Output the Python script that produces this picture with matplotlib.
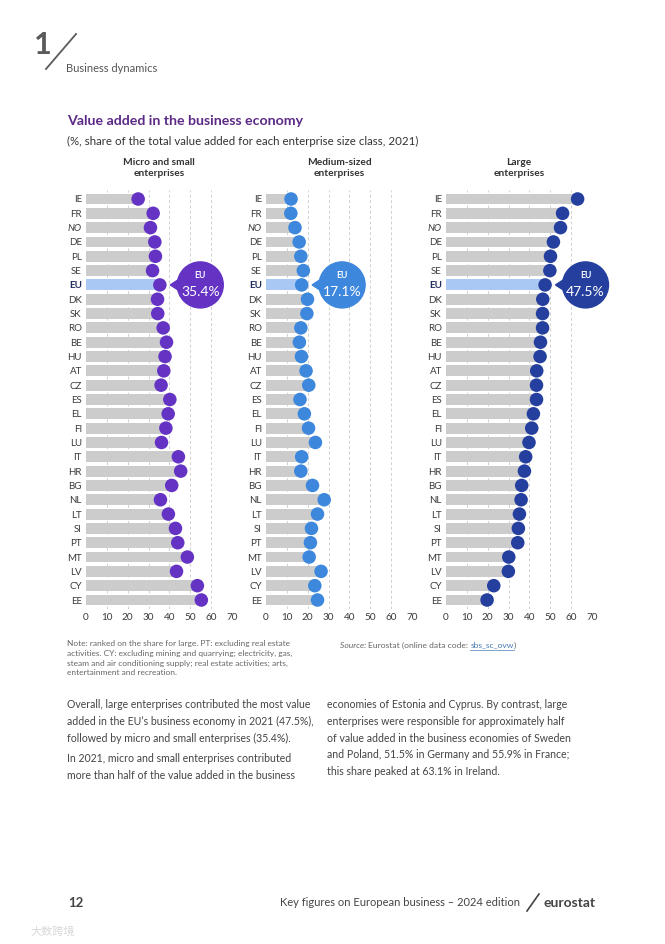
import numpy as np
import matplotlib.pyplot as plt
from matplotlib.patches import Ellipse, Polygon
from matplotlib.lines import Line2D

# ── data ──────────────────────────────────────────────────────────────
COUNTRIES = ["IE", "FR", "NO", "DE", "PL", "SE", "EU", "DK", "SK", "RO",
             "BE", "HU", "AT", "CZ", "ES", "EL", "FI", "LU", "IT", "HR",
             "BG", "NL", "LT", "SI", "PT", "MT", "LV", "CY", "EE"]

MICRO = [25.0, 32.2, 30.9, 33.0, 33.3, 31.9, 35.4, 34.3, 34.4, 37.0,
         38.6, 37.9, 37.3, 36.0, 40.2, 39.4, 38.3, 36.2, 44.3, 45.4,
         41.1, 35.7, 39.5, 42.9, 44.0, 48.6, 43.4, 53.4, 55.3]
MEDIUM = [12.0, 11.9, 13.9, 15.9, 16.7, 17.9, 17.1, 19.9, 19.6, 16.7,
          16.0, 17.0, 19.2, 20.5, 16.3, 18.4, 20.4, 23.7, 17.1, 16.7,
          22.3, 27.9, 24.7, 21.8, 21.3, 20.7, 26.4, 23.4, 24.7]
LARGE = [63.1, 55.9, 54.9, 51.5, 50.1, 49.8, 47.5, 46.4, 46.3, 46.3,
         45.3, 45.1, 43.5, 43.4, 43.4, 41.9, 41.1, 39.8, 38.2, 37.6,
         36.3, 36.0, 35.2, 34.7, 34.4, 30.1, 29.9, 22.9, 19.7]

PANEL_TITLES = ["Micro and small\nenterprises", "Medium-sized\nenterprises", "Large\nenterprises"]
PANEL_COLORS = ["#6433c4", "#3d87dc", "#243f9e"]
XTICKS = [0, 10, 20, 30, 40, 50, 60, 70]

W, H = 665, 944
BODY = ["Lato", "DejaVu Sans"]
plt.rcParams["font.family"] = BODY

fig = plt.figure(figsize=(W / 100, H / 100), dpi=100, facecolor="white")


def fx(px):
    return px / W


def fy(py):
    return 1 - py / H


# ── page header ───────────────────────────────────────────────────────
fig.text(fx(34), fy(45), "1", fontsize=22, fontweight="bold", color="#5a5a5a", va="center")
fig.add_artist(Line2D([fx(46), fx(76)], [fy(69), fy(34)], color="#5a5a5a", lw=1.3))
fig.text(fx(66), fy(68), "Business dynamics", fontsize=8, color="#555555", va="center")

fig.text(fx(67), fy(121), "Value added in the business economy", fontsize=10.2,
         fontweight="bold", color="#5c2a86", va="center")
fig.text(fx(67), fy(141), "(%, share of the total value added for each enterprise size class, 2021)",
         fontsize=8.3, color="#333333", va="center")

# ── panels ────────────────────────────────────────────────────────────
lefts = [86, 266, 446]
ax_w = 146
top_px, bot_px = 190.4, 608.6
n = len(COUNTRIES)
eu_idx = COUNTRIES.index("EU")
y = np.arange(n)

for left, values, color, title in zip(lefts, [MICRO, MEDIUM, LARGE], PANEL_COLORS, PANEL_TITLES):
    ax = fig.add_axes([fx(left), fy(bot_px), ax_w / W, (bot_px - top_px) / H])
    ax.set_xlim(0, 70)
    ax.set_ylim(n - 0.4, -0.6)
    for xv in XTICKS[1:]:
        ax.axvline(xv, color="#d0d0d0", lw=0.7, ls=(0, (3, 2.5)), zorder=0)
    bar_cols = ["#a9c9f4" if c == "EU" else "#cccccc" for c in COUNTRIES]
    ax.barh(y, values, height=0.76, color=bar_cols, zorder=1)
    ax.scatter(values, y, s=95, color=color, zorder=3, edgecolors="none")

    ax.set_yticks(y)
    ax.set_yticklabels(COUNTRIES, fontsize=7, color="#3a3a3a")
    for lab, c in zip(ax.get_yticklabels(), COUNTRIES):
        if c == "NO":
            lab.set_fontstyle("italic")
        if c == "EU":
            lab.set_fontweight("bold")
            lab.set_color("#1f2d5c")
    ax.set_xticks(XTICKS)
    ax.set_xticklabels([str(t) for t in XTICKS], fontsize=7.2, color="#3a3a3a")
    ax.tick_params(length=0, pad=3)
    for sp in ax.spines.values():
        sp.set_visible(False)
    ax.patch.set_alpha(0)

    fig.text(fx(left + ax_w / 2), fy(168), title, fontsize=7.3, fontweight="bold",
             color="#333333", ha="center", va="center", linespacing=1.15)

    # EU call-out bubble
    eu = values[eu_idx]
    tip_px = left + (eu + 5) * ax_w / 70
    eu_py = top_px + (eu_idx + 0.6) * (bot_px - top_px) / (n + 0.2)
    r = 23
    cx = tip_px + 30
    fig.add_artist(Polygon([[fx(tip_px), fy(eu_py)],
                            [fx(cx - r * 0.7), fy(eu_py - 9)],
                            [fx(cx - r * 0.7), fy(eu_py + 9)]],
                           closed=True, color=color, transform=fig.transFigure))
    fig.add_artist(Ellipse((fx(cx), fy(eu_py)), 2 * r / W, 2 * r / H, color=color,
                           transform=fig.transFigure))
    fig.text(fx(cx), fy(eu_py - 9), "EU", fontsize=6.2, fontweight="bold", color="white",
             ha="center", va="center")
    fig.text(fx(cx), fy(eu_py + 7), f"{eu:.1f}%", fontsize=10, color="white",
             ha="center", va="center")

# ── notes ─────────────────────────────────────────────────────────────
NOTE = ("Note: ranked on the share for large. PT: excluding real estate\n"
        "activities. CY: excluding mining and quarrying; electricity, gas,\n"
        "steam and air conditioning supply; real estate activities; arts,\n"
        "entertainment and recreation.")
fig.text(fx(67), fy(640), NOTE, fontsize=6.0, color="#666666", va="top", linespacing=1.45)

renderer = fig.canvas.get_renderer()
src_parts = [("Source: ", "#666666", "italic"),
             ("Eurostat (online data code: ", "#666666", "normal"),
             ("sbs_sc_ovw", "#4a7bb7", "normal"),
             (")", "#666666", "normal")]
xpos = 340
for txt, col, sty in src_parts:
    t = fig.text(fx(xpos), fy(645), txt, fontsize=6.1, color=col, style=sty, va="center")
    bb = t.get_window_extent(renderer)
    if txt == "sbs_sc_ovw":
        fig.add_artist(Line2D([fx(xpos), fx(xpos + bb.width)], [fy(649.5), fy(649.5)],
                              color="#4a7bb7", lw=0.5))
    xpos += bb.width

# ── body text ─────────────────────────────────────────────────────────
LEFT_LINES = ["Overall, large enterprises contributed the most value",
              "added in the EU\u2019s business economy in 2021 (47.5%),",
              "followed by micro and small enterprises (35.4%)."]
LEFT_LINES2 = ["In 2021, micro and small enterprises contributed",
               "more than half of the value added in the business"]
RIGHT_LINES = ["economies of Estonia and Cyprus. By contrast, large",
               "enterprises were responsible for approximately half",
               "of value added in the business economies of Sweden",
               "and Poland, 51.5% in Germany and 55.9% in France;",
               "this share peaked at 63.1% in Ireland."]
step = 16.6
for i, line in enumerate(LEFT_LINES):
    fig.text(fx(67), fy(705 + i * step), line, fontsize=7.6, color="#444444", va="center")
for i, line in enumerate(LEFT_LINES2):
    fig.text(fx(67), fy(759 + i * step), line, fontsize=7.6, color="#444444", va="center")
for i, line in enumerate(RIGHT_LINES):
    fig.text(fx(327), fy(705 + i * step), line, fontsize=7.6, color="#444444", va="center")

# ── footer ────────────────────────────────────────────────────────────
fig.text(fx(68), fy(903), "12", fontsize=9.5, fontweight="bold", color="#444444", va="center")
fig.text(fx(520), fy(903), "Key figures on European business \u2013 2024 edition",
         fontsize=8, color="#444444", ha="right", va="center")
fig.add_artist(Line2D([fx(527), fx(539)], [fy(911), fy(894)], color="#444444", lw=1.2))
fig.text(fx(543), fy(903), "eurostat", fontsize=10, fontweight="bold", color="#444444",
         va="center")
fig.text(fx(30), fy(932), "大数跨境", fontsize=8, color="#d8d8d8",
         family=["Noto Sans CJK SC", "DejaVu Sans"], va="center")

fig.savefig("out.png", dpi=100, facecolor="white")
